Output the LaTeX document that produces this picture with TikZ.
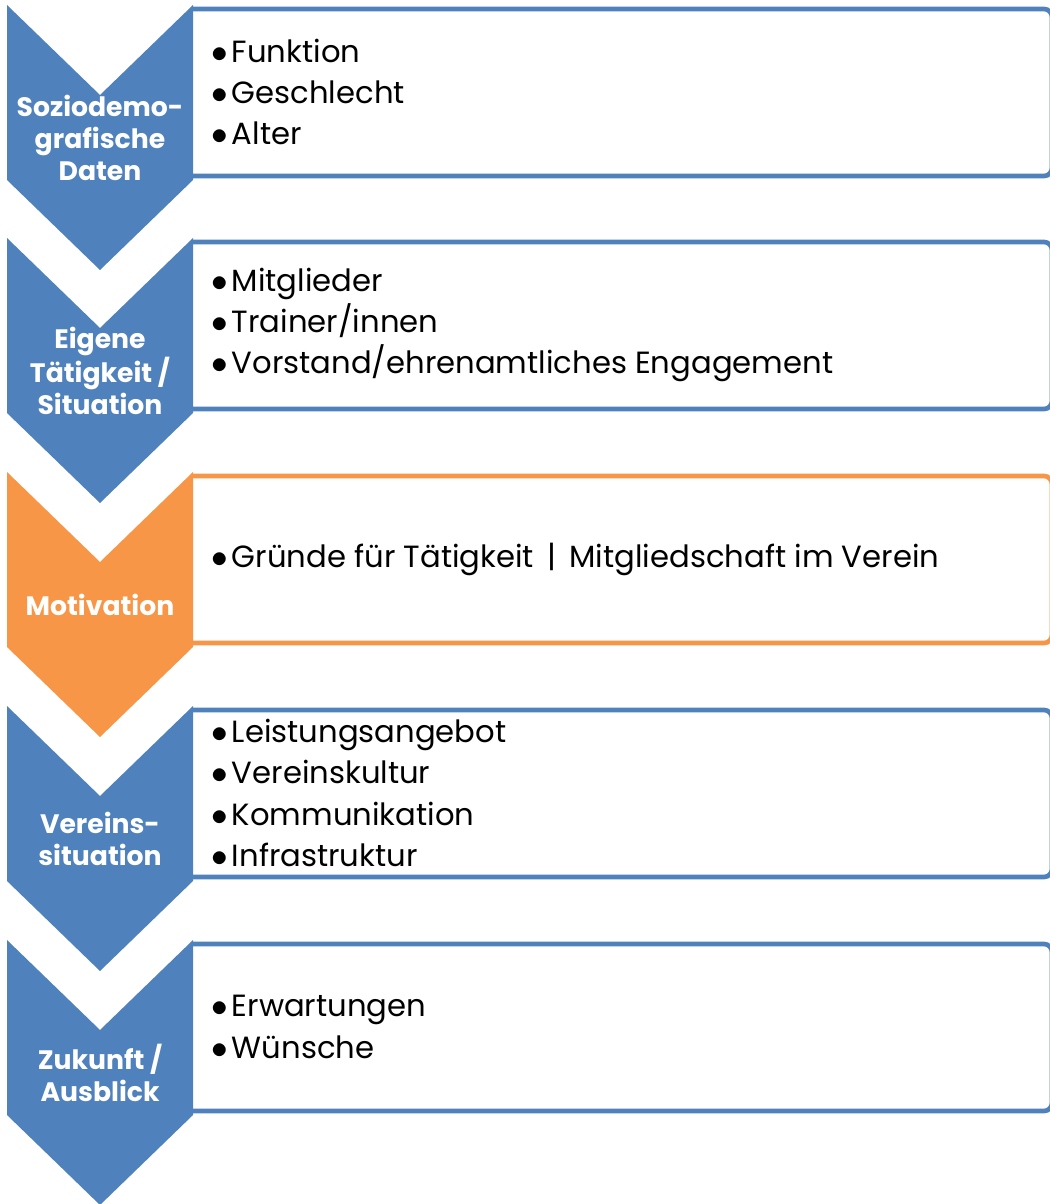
\documentclass[tikz,border=0pt]{standalone}
\usepackage{fontspec}
\setmainfont{Poppins}
\usetikzlibrary{positioning}
\definecolor{chevblue}{HTML}{4F81BD}
\definecolor{chevorange}{HTML}{F79646}
\tikzset{
  chevlabel/.style={text=white, font=\bfseries\fontsize{20}{24}\selectfont, align=center},
  itembox/.style={draw=#1, line width=3.5pt, rounded corners=6pt, fill=white},
  itemtext/.style={anchor=west, align=left, font=\fontsize{23}{31}\selectfont, inner sep=0pt},
}
\newcommand{\itm}[1]{$\bullet$\hspace{3pt}#1}

\begin{document}
\begin{tikzpicture}[x=0.75pt,y=-0.75pt]
\useasboundingbox (0,0) rectangle (1050,1204);
\foreach \t/\col/\name/\lab/\items in {
  5/chevblue/sozio/{Soziodemo-\\grafische\\Daten}/{\itm{Funktion}\\\itm{Geschlecht}\\\itm{Alter}},
  238/chevblue/taetig/{Eigene\\Tätigkeit /\\Situation}/{\itm{Mitglieder}\\\itm{Trainer/innen}\\\itm{Vorstand/ehrenamtliches Engagement}},
  472/chevorange/motiv/{Motivation}/{\itm{Gründe für Tätigkeit\hspace{10pt}|\hspace{10pt}Mitgliedschaft im Verein}},
  706/chevblue/verein/{Vereins-\\situation}/{\itm{Leistungsangebot}\\\itm{Vereinskultur}\\\itm{Kommunikation}\\\itm{Infrastruktur}},
  940/chevblue/zukunft/{Zukunft /\\Ausblick}/{\itm{Erwartungen}\\\itm{Wünsche}}}
{
  % box behind the chevron, open at the left
  \draw[itembox=\col] (192,\t+4) -- (1052,\t+4) -- (1052,\t+171) -- (192,\t+171);
  \fill[\col] (7,\t) -- (100,\t+90) -- (193,\t) -- (193,\t+175) -- (100,\t+265) -- (7,\t+175) -- cycle;
  \node[chevlabel] (\name-lab) at (100,\t+133) {\lab};
  \node[itemtext] (\name-items) at (211,\t+87) {\items};
}
\end{tikzpicture}
\end{document}
